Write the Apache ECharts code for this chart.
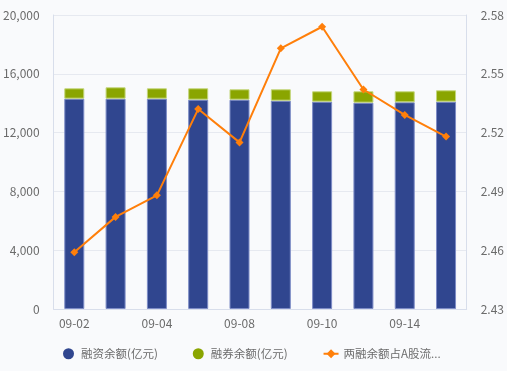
<!DOCTYPE html>
<html>
<head>
<meta charset="utf-8">
<script src="https://cdn.jsdelivr.net/npm/echarts@6/dist/echarts.min.js"></script>
<style>
html,body{margin:0;padding:0;background:#f9fafc;}
#main{width:507px;height:371px;}
</style>
</head>
<body>
<div id="main"></div>
<script>
var categories = ['09-02','09-03','09-04','09-07','09-08','09-09','09-10','09-11','09-14','09-15'];
var financingBalance = [14307,14307,14307,14239,14239,14171,14103,14035,14062,14103];
var lendingBalance = [707,775,707,775,707,775,707,775,748,775];
var ratioValues = [2.459,2.477,2.488,2.532,2.515,2.563,2.574,2.542,2.529,2.518];
var leftTicks = {min:0, max:20000, interval:4000};
var rightTicks = {min:2.43, max:2.58, interval:0.03};
var seriesNames = ['融资余额(亿元)','融券余额(亿元)','两融余额占A股流通市值比(%)'];

var textColor = '#6b6b6b';
var axisLineColor = '#d8deeb';
var chart = echarts.init(document.getElementById('main'), null, {renderer:'canvas'});
chart.setOption({
  backgroundColor:'#f9fafc',
  animation:false,
  textStyle:{fontFamily:'"Noto Sans CJK SC", "Noto Sans", sans-serif'},
  grid:{left:49, right:40, top:15, bottom:62},
  legend:{
    left:58, top:343,
    itemWidth:15, itemHeight:11, itemGap:35,
    textStyle:{color:textColor, fontSize:11.5, width:104, overflow:'truncate', ellipsis:'...'},
    data:[
      {name:seriesNames[0], icon:'circle', itemStyle:{borderWidth:0}},
      {name:seriesNames[1], icon:'circle', itemStyle:{borderWidth:0}},
      {name:seriesNames[2]}
    ]
  },
  xAxis:{
    type:'category',
    data:categories,
    boundaryGap:true,
    axisLine:{lineStyle:{color:axisLineColor}},
    axisTick:{alignWithLabel:true, interval:0, length:4, lineStyle:{color:axisLineColor}},
    axisLabel:{interval:1, color:textColor, fontSize:12, margin:8}
  },
  yAxis:[
    {
      type:'value', min:leftTicks.min, max:leftTicks.max, interval:leftTicks.interval,
      axisLine:{show:true, lineStyle:{color:axisLineColor}},
      axisTick:{show:false},
      axisLabel:{color:textColor, fontSize:12, margin:14, formatter:function(v){return echarts.format.addCommas(v);}},
      splitLine:{lineStyle:{color:'#e6e9f0'}}
    },
    {
      type:'value', min:rightTicks.min, max:rightTicks.max, interval:rightTicks.interval,
      axisLine:{show:true, lineStyle:{color:axisLineColor}},
      axisTick:{show:false},
      axisLabel:{color:textColor, fontSize:12, margin:14, formatter:function(v){return v.toFixed(2);}},
      splitLine:{show:false}
    }
  ],
  series:[
    {
      name:seriesNames[0], type:'bar', stack:'total', barWidth:20,
      data:financingBalance,
      itemStyle:{color:'#30468f', borderColor:'#7d8cc6', borderWidth:1}
    },
    {
      name:seriesNames[1], type:'bar', stack:'total', barWidth:20,
      data:lendingBalance,
      itemStyle:{color:'#8aa500', borderColor:'#c3d67a', borderWidth:1}
    },
    {
      name:seriesNames[2], type:'line', yAxisIndex:1,
      data:ratioValues,
      symbol:'diamond', symbolSize:8,
      lineStyle:{color:'#ff7f0a', width:2},
      itemStyle:{color:'#ff7f0a'}
    }
  ]
});
</script>
</body>
</html>
